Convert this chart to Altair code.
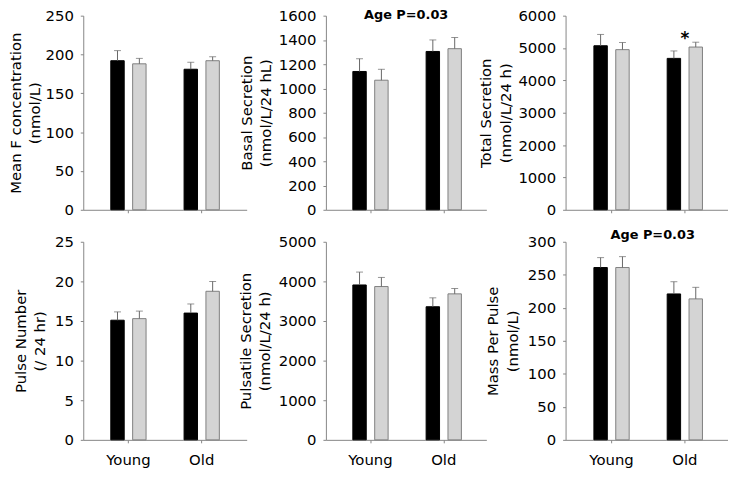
import altair as alt
import pandas as pd

groups = ["Young", "Old"]
series = ["black", "grey"]
bar_fill = ["#000000", "#d4d4d4"]
bar_stroke = ["#000000", "#7f7f7f"]
err_color = "#666666"
axis_color = "#868686"

# order of values: Young-black, Young-grey, Old-black, Old-grey
mean_f = [192, 188, 181, 192]
mean_f_err = [13, 7, 9, 5]
basal = [1140, 1068, 1305, 1328]
basal_err = [105, 90, 95, 92]
total = [5070, 4950, 4680, 5030]
total_err = [350, 220, 230, 150]
pulse_n = [15.1, 15.3, 16.0, 18.75]
pulse_n_err = [1.05, 0.95, 1.15, 1.25]
pulsatile = [3910, 3870, 3360, 3685]
pulsatile_err = [325, 230, 225, 135]
mass = [261, 261, 221, 213.5]
mass_err = [15, 16.5, 18.5, 17.5]

y_titles = [
    ["Mean F concentration", "(nmol/L)"],
    ["Basal Secretion", "(nmol/L/24 hL)"],
    ["Total Secretion", "(nmol/L/24 h)"],
    ["Pulse Number", "(/ 24 hr)"],
    ["Pulsatile Secretion", "(nmol/L/24 h)"],
    ["Mass Per Pulse", "(nmol/L)"],
]
y_max = [250, 1600, 6000, 25, 5000, 300]
y_step = [50, 200, 1000, 5, 1000, 50]
panel_titles = [None, "Age P=0.03", None, None, None, "Age P=0.03"]
star_group = ["Old"]
star_value = [5120]
star_text = ["*"]

COL_W = [165, 162, 164]
COL_C1 = [45.6, 45.0, 46.4]   # first band centre from the y axis
STEP = 74.0
H_TOP = 196
H_BOT = 200


def panel(col, vals, errs, ytitle, ymax, step, title_x, height, bottom,
          title=None, title_y=0, title_dx=0, star=False):
    W = COL_W[col]
    spare = W - 1.8 * STEP
    start = COL_C1[col] - 0.8 * STEP / 2
    df = pd.DataFrame({
        "group": [g for g in groups for s in series],
        "series": [s for g in groups for s in series],
        "value": vals,
        "upper": [v + e for v, e in zip(vals, errs)],
    })
    xaxis = alt.Axis(title=None, labels=bottom, labelFontSize=15, labelPadding=10,
                     tickSize=3, labelAngle=0, domainColor=axis_color,
                     tickColor=axis_color, labelColor="black")
    xscale = alt.Scale(domain=groups, paddingInner=0.2,
                       paddingOuter=spare / 2 / STEP, align=start / spare)
    x = alt.X("group:N", sort=groups, scale=xscale, axis=xaxis)
    xo = alt.XOffset("series:N", sort=series,
                     scale=alt.Scale(domain=series, paddingInner=0.386, paddingOuter=0.534))
    yscale = alt.Scale(domain=[0, ymax], nice=False, zero=True)
    yaxis = alt.Axis(values=list(range(0, ymax + 1, step)), format="d", title=ytitle,
                     titleX=title_x, titleY=height / 2, titleAngle=270,
                     titleAlign="center", titleBaseline="middle", titleLineHeight=19.5,
                     titleFontSize=15, titleFontWeight="normal", titleColor="black",
                     grid=False, labelFontSize=15, labelPadding=7, tickSize=3,
                     domainColor=axis_color, tickColor=axis_color, labelColor="black")
    base = alt.Chart(df)
    bars = base.mark_bar(strokeWidth=1).encode(
        x=x, xOffset=xo,
        y=alt.Y("value:Q", scale=yscale, axis=yaxis),
        fill=alt.Fill("series:N", scale=alt.Scale(domain=series, range=bar_fill), legend=None),
        stroke=alt.Stroke("series:N", scale=alt.Scale(domain=series, range=bar_stroke), legend=None),
    )
    stems = base.mark_rule(color=err_color, strokeWidth=1).encode(
        x=x, xOffset=xo,
        y=alt.Y("value:Q", scale=yscale, axis=yaxis),
        y2="upper:Q",
    )
    caps = base.mark_tick(color=err_color, thickness=1, size=7, orient="horizontal").encode(
        x=x, xOffset=xo,
        y=alt.Y("upper:Q", scale=yscale, axis=yaxis),
    )
    layers = [bars, stems, caps]
    if star:
        sdf = pd.DataFrame({"group": star_group, "value": star_value, "t": star_text})
        layers.append(alt.Chart(sdf).mark_text(fontSize=17, fontWeight="bold",
                                               baseline="alphabetic", dx=0, color="black").encode(
            x=x, y=alt.Y("value:Q", scale=yscale, axis=yaxis), text="t:N"))
    if title:
        tdf = pd.DataFrame({"t": [title]})
        layers.append(alt.Chart(tdf).mark_text(fontSize=13, fontWeight="bold",
                                               baseline="alphabetic", align="center",
                                               color="black").encode(
            x=alt.value(W / 2 + title_dx), y=alt.value(title_y), text="t:N"))
    ch = alt.layer(*layers)
    return ch.properties(width=W, height=height)


p1 = panel(0, mean_f, mean_f_err, y_titles[0], y_max[0], y_step[0], -68.5, H_TOP, False)
p2 = panel(1, basal, basal_err, y_titles[1], y_max[1], y_step[1], -80.3, H_TOP, False,
           title=panel_titles[1], title_y=3.5)
p3 = panel(2, total, total_err, y_titles[2], y_max[2], y_step[2], -80.3, H_TOP, False, star=True)
p4 = panel(0, pulse_n, pulse_n_err, y_titles[3], y_max[3], y_step[3], -63.5, H_BOT, True)
p5 = panel(1, pulsatile, pulsatile_err, y_titles[4], y_max[4], y_step[4], -81.3, H_BOT, True)
p6 = panel(2, mass, mass_err, y_titles[5], y_max[5], y_step[5], -73.3, H_BOT, True,
           title=panel_titles[5], title_y=-3, title_dx=6)

chart = alt.concat(
    p1, p2, p3, p4, p5, p6, columns=3, align="each",
    spacing=alt.RowColnumber(row=32.3, column=80), bounds="flush",
).properties(
    padding={"left": 0, "top": -1.5, "right": 0, "bottom": 0}
).configure(font="DejaVu Sans").configure_view(strokeWidth=0)

chart.save("out.html", embed_options={"renderer": "svg", "actions": False})
